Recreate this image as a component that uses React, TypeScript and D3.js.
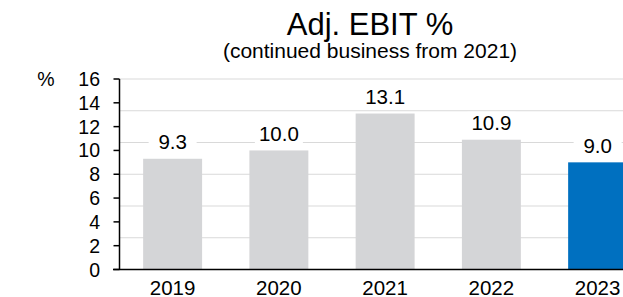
import React from 'react';
import * as d3 from 'd3';

const width = 623;
const height = 297;
const grey = '#d4d5d7';
const blue = '#0070c0';

const years = ['2019', '2020', '2021', '2022', '2023'];
const ebit = [9.3, 10.0, 13.1, 10.9, 9.0];
const yTicks = [0, 2, 4, 6, 8, 10, 12, 14, 16];
const gridValues = [0, 16 / 6, 32 / 6, 8, 64 / 6, 80 / 6, 16];

const font = 'Arial, "Liberation Sans", sans-serif';

export default function App() {
  const left = 119.5;
  const step = 106.25;

  const y = d3.scaleLinear().domain([0, 16]).range([269.5, 79]);
  const x = d3
    .scaleBand()
    .domain(years)
    .range([left, left + step * years.length])
    .paddingInner(0.445)
    .paddingOuter(0.2225);

  return (
    <svg
      width={width}
      height={height}
      style={{ position: 'fixed', left: 0, top: 0, fontFamily: font }}
    >
      <rect width={width} height={height} fill="#fff" />
      <text x={370} y={35} textAnchor="middle" fontSize={31}>
        Adj. EBIT %
      </text>
      <text x={370} y={58} textAnchor="middle" fontSize={21}>
        (continued business from 2021)
      </text>

      {gridValues.map((v) => (
        <line key={v} x1={left} x2={width} y1={y(v)} y2={y(v)} stroke="#d9d9d9" strokeWidth={1} />
      ))}

      {years.map((yr, i) => (
        <rect
          key={yr}
          x={x(yr)}
          y={y(ebit[i])}
          width={x.bandwidth()}
          height={y(0) - y(ebit[i])}
          fill={i === years.length - 1 ? blue : grey}
        />
      ))}

      {years.map((yr, i) => {
        const cx = (x(yr) as number) + x.bandwidth() / 2;
        const cy = y(ebit[i]) - 17;
        return (
          <g key={yr}>
            <rect x={cx - 24} y={cy - 11} width={48} height={22} fill="#fff" />
            <text x={cx} y={cy} textAnchor="middle" dominantBaseline="central" fontSize={20.5}>
              {ebit[i].toFixed(1)}
            </text>
          </g>
        );
      })}

      <line x1={left} x2={left} y1={y(16)} y2={y(0)} stroke="#000" strokeWidth={1.5} />
      {yTicks.map((t) => (
        <g key={t}>
          <line x1={left - 6} x2={left} y1={y(t)} y2={y(t)} stroke="#000" strokeWidth={1.5} />
          <text x={100} y={y(t)} textAnchor="end" dominantBaseline="central" fontSize={19.5}>
            {t}
          </text>
        </g>
      ))}
      <line x1={113} x2={width} y1={y(0)} y2={y(0)} stroke="#000" strokeWidth={1.5} />
      <text x={46} y={y(16)} textAnchor="middle" dominantBaseline="central" fontSize={19.5}>
        %
      </text>

      {years.map((yr) => (
        <text
          key={yr}
          x={(x(yr) as number) + x.bandwidth() / 2}
          y={295}
          textAnchor="middle"
          fontSize={20.5}
        >
          {yr}
        </text>
      ))}
    </svg>
  );
}
